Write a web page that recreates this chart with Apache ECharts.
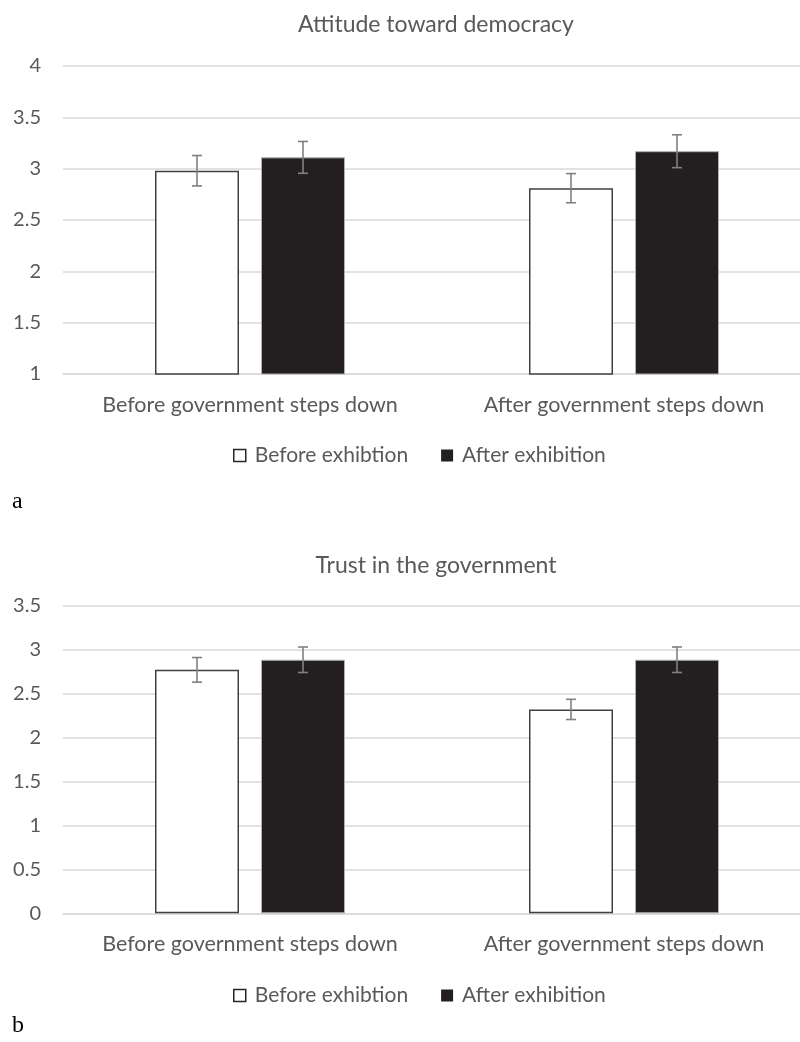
<!DOCTYPE html>
<html>
<head>
<meta charset="utf-8">
<script src="https://cdn.jsdelivr.net/npm/echarts@6/dist/echarts.min.js"></script>
<style>
  html, body { margin: 0; padding: 0; background: #fff; overflow: hidden; }
  #chart { width: 811px; height: 1042px; }
</style>
</head>
<body>
<div id="chart"></div>
<script>
// data
var categories = ['Before government steps down', 'After government steps down'];
var seriesNames = ['Before exhibtion', 'After exhibition'];

var democracyBefore = [2.98, 2.81];
var democracyAfter = [3.11, 3.17];
var democracyBeforeErr = [0.148, 0.142];
var democracyAfterErr = [0.155, 0.16];

var trustBefore = [2.77, 2.32];
var trustAfter = [2.885, 2.885];
var trustBeforeErr = [0.14, 0.115];
var trustAfterErr = [0.145, 0.145];

var titles = ['Attitude toward democracy', 'Trust in the government'];
var panelLabels = ['a', 'b'];

var font = 'Lato, "Open Sans", sans-serif';
var grey = '#595959';
var barW = 84;
var barGapPx = 22;
var half = (barW + barGapPx) / 2;

function errData(vals, errs) {
    return vals.map(function(v, i) {
        return [i, v - errs[i], v + errs[i]];
    });
}

function errRender(offset) {
    return function(params, api) {
        var lo = api.coord([api.value(0), api.value(1)]);
        var hi = api.coord([api.value(0), api.value(2)]);
        var x = lo[0] + offset;
        var cap = 5;
        var style = { stroke: '#808080', lineWidth: 1.6 };
        return {
            type: 'group',
            children: [
                { type: 'line', shape: { x1: x, y1: lo[1], x2: x, y2: hi[1] }, style: style },
                { type: 'line', shape: { x1: x - cap, y1: lo[1], x2: x + cap, y2: lo[1] }, style: style },
                { type: 'line', shape: { x1: x - cap, y1: hi[1], x2: x + cap, y2: hi[1] }, style: style }
            ]
        };
    };
}

var whiteStyle = { color: '#ffffff', borderColor: '#404040', borderWidth: 1.5 };
var blackStyle = { color: '#231f20', borderColor: '#b0b0b0', borderWidth: 1 };

function panelSeries(idx, before, after, beforeErr, afterErr) {
    return [
        {
            name: seriesNames[0], type: 'bar', xAxisIndex: idx, yAxisIndex: idx,
            data: before, barWidth: barW, barGap: (barGapPx / barW * 100) + '%',
            itemStyle: whiteStyle, silent: true
        },
        {
            name: seriesNames[1], type: 'bar', xAxisIndex: idx, yAxisIndex: idx,
            data: after, barWidth: barW,
            itemStyle: blackStyle, silent: true
        },
        {
            type: 'custom', xAxisIndex: idx, yAxisIndex: idx, z: 10, silent: true,
            renderItem: errRender(-half), data: errData(before, beforeErr),
            encode: { x: 0, y: [1, 2] }
        },
        {
            type: 'custom', xAxisIndex: idx, yAxisIndex: idx, z: 10, silent: true,
            renderItem: errRender(half), data: errData(after, afterErr),
            encode: { x: 0, y: [1, 2] }
        }
    ];
}

function xAxisFor(idx) {
    return {
        type: 'category', gridIndex: idx, data: categories,
        axisTick: { show: false },
        axisLine: { lineStyle: { color: '#d9d9d9', width: 1.5 } },
        axisLabel: { color: grey, fontSize: 21.5, fontFamily: font, margin: 20, interval: 0, hideOverlap: false }
    };
}

function yAxisFor(idx, min, max) {
    return {
        type: 'value', gridIndex: idx, min: min, max: max, interval: 0.5,
        axisLine: { show: false }, axisTick: { show: false },
        splitLine: { lineStyle: { color: '#d9d9d9', width: 1.5 } },
        axisLabel: { color: grey, fontSize: 20, fontFamily: font, margin: 22 }
    };
}

function legendFor(top) {
    return {
        top: top, left: 228, icon: 'rect', itemWidth: 12, itemHeight: 12, itemGap: 33,
        textStyle: { color: grey, fontSize: 21, fontFamily: font, padding: [0, 0, 0, 4] },
        data: [
            { name: seriesNames[0], itemStyle: { color: '#ffffff', borderColor: '#262626', borderWidth: 1.5 } },
            { name: seriesNames[1], itemStyle: { color: '#231f20', borderWidth: 0 } }
        ]
    };
}

var chart = echarts.init(document.getElementById('chart'), null, { renderer: 'canvas' });

var option = {
    animation: false,
    backgroundColor: '#ffffff',
    title: [
        { text: titles[0], left: 431, top: 8, textAlign: 'center',
          textStyle: { color: grey, fontSize: 23, fontWeight: 'normal', fontFamily: font } },
        { text: titles[1], left: 431, top: 549, textAlign: 'center',
          textStyle: { color: grey, fontSize: 23, fontWeight: 'normal', fontFamily: font } }
    ],
    legend: [legendFor(440), legendFor(980)],
    grid: [
        { left: 63, top: 66, width: 748, height: 308 },
        { left: 63, top: 605.7, width: 748, height: 307.6 }
    ],
    xAxis: [xAxisFor(0), xAxisFor(1)],
    yAxis: [yAxisFor(0, 1, 4), yAxisFor(1, 0, 3.5)],
    series: panelSeries(0, democracyBefore, democracyAfter, democracyBeforeErr, democracyAfterErr)
        .concat(panelSeries(1, trustBefore, trustAfter, trustBeforeErr, trustAfterErr)),
    graphic: [
        { type: 'text', left: 12, top: 490,
          style: { text: panelLabels[0], fill: '#000', font: '24px "Liberation Serif", serif' } },
        { type: 'text', left: 12, top: 1014,
          style: { text: panelLabels[1], fill: '#000', font: '24px "Liberation Serif", serif' } }
    ]
};

chart.setOption(option);
</script>
</body>
</html>
